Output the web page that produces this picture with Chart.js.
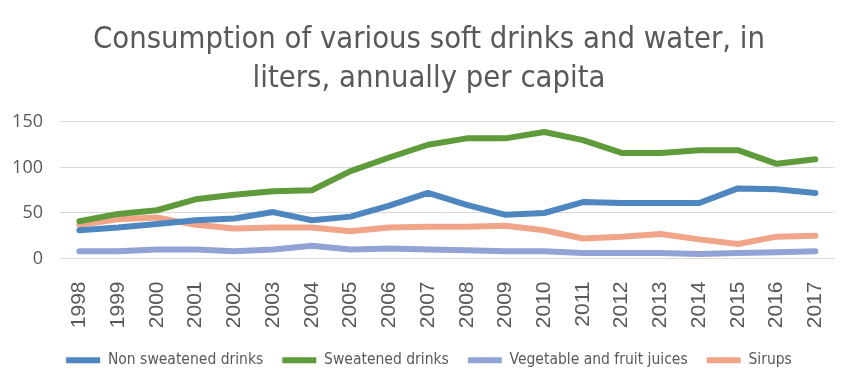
<!DOCTYPE html>
<html>
<head>
<meta charset="utf-8">
<script src="https://cdn.jsdelivr.net/npm/chart.js@4/dist/chart.umd.min.js"></script>
<style>
html,body{margin:0;padding:0;background:#fff;}
#wrap{width:856px;height:384px;}
</style>
</head>
<body>
<div id="wrap"><canvas id="c" width="856" height="384"></canvas></div>
<script>
const years = ["1998","1999","2000","2001","2002","2003","2004","2005","2006","2007","2008","2009","2010","2011","2012","2013","2014","2015","2016","2017"];
const nonSweatened = [31,34,38,42,44,51,42,46,58,72,59,48,50,62,61,61,61,77,76,72];
const sweatened = [41,49,53,65,70,74,75,96,111,125,132,132,139,130,116,116,119,119,104,109];
const vegFruitJuices = [8,8,10,10,8,10,14,10,11,10,9,8,8,6,6,6,5,6,7,8];
const sirups = [37,43,45,37,33,34,34,30,34,35,35,36,31,22,24,27,21,16,24,25];
const yTicks = [0,50,100,150];
const titleLines = ["Consumption of various soft drinks and water, in","liters, annually per capita"];

const condensed = "'Liberation Sans Narrow','DejaVu Sans Condensed','Open Sans',sans-serif";
const txt = '#595959';

function ds(label, data, color){
  return {label, data, borderColor: color, backgroundColor: color, borderWidth: 6,
    borderCapStyle:'round', borderJoinStyle:'round', pointRadius:0, pointHoverRadius:0,
    tension:0, fill:false, pointStyle:'line'};
}

new Chart(document.getElementById('c'), {
  type: 'line',
  data: {
    labels: years,
    datasets: [
      ds('Non sweatened drinks', nonSweatened, '#4e86bf'),
      ds('Sweatened drinks', sweatened, '#5f9b3b'),
      ds('Vegetable and fruit juices', vegFruitJuices, '#91a3d5'),
      ds('Sirups', sirups, '#f0a588')
    ]
  },
  options: {
    responsive: false,
    animation: false,
    devicePixelRatio: 1,
    layout: {autoPadding: false, padding: {left: 10, right: 8, top: 6, bottom: 6}},
    plugins: {
      title: {
        display: true, text: titleLines, color: txt,
        font: {family: condensed, size: 30.7, weight: 'normal', lineHeight: 1.27},
        padding: {top: 15, bottom: 23}
      },
      legend: {
        position: 'bottom',
        labels: {
          color: txt, usePointStyle: true, pointStyle: 'line', pointStyleWidth: 34,
          boxHeight: 6, padding: 19,
          font: {family: condensed, size: 15.5}
        }
      },
      tooltip: {enabled: false}
    },
    scales: {
      x: {
        offset: true,
        grid: {display: false},
        border: {display: false},
        afterFit: (axis) => { axis.height = 75; },
        ticks: {color: txt, minRotation: 90, maxRotation: 90, autoSkip: false,
          font: {family: "'Liberation Sans',Arial,sans-serif", size: 21}, padding: 15}
      },
      y: {
        min: 0, max: 150,
        afterBuildTicks: (axis) => { axis.ticks = yTicks.map(v => ({value: v})); },
        afterFit: (axis) => { axis.width = 50; },
        grid: {color: '#d9d9d9', lineWidth: 1, drawTicks: false},
        border: {display: false},
        ticks: {color: txt, padding: 17, font: {family: "'Open Sans',sans-serif", size: 18}}
      },
      yRightSpace: {
        position: 'right', min: 0, max: 1,
        grid: {display: false, drawOnChartArea: false},
        border: {display: false},
        ticks: {display: false},
        afterFit: (axis) => { axis.width = 9; }
      }
    }
  }
});
</script>
</body>
</html>
